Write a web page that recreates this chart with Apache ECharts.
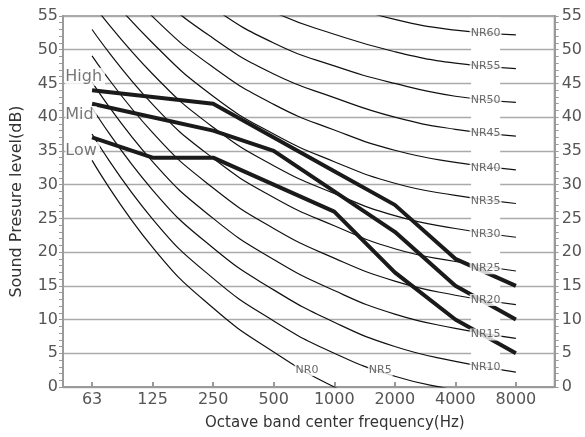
<!DOCTYPE html>
<html>
<head>
<meta charset="utf-8">
<script src="https://cdn.jsdelivr.net/npm/echarts@6/dist/echarts.min.js"></script>
<style>html,body{margin:0;padding:0;background:#fff;}#c{width:585px;height:437px;}</style>
</head>
<body>
<div id="c"></div>
<script>
// Octave band categories
const freqLabels = ['63', '125', '250', '500', '1000', '2000', '4000', '8000'];
// Y axis range / ticks
const yMin = 0, yMax = 55, yStep = 5;

// NR curves (dB at 63..8000 Hz)
const nr0  = [33.6, 20.7, 11.7, 5.2, 0.0, -3.7, -6.0, -7.8];
const nr5  = [37.5, 24.9, 16.1, 9.8, 5.0, 1.6, -0.5, -2.5];
const nr10 = [41.4, 29.2, 20.6, 14.4, 9.6, 6.0, 3.8, 2.2];
const nr15 = [45.2, 33.4, 25.0, 18.9, 14.3, 10.8, 8.7, 7.2];
const nr20 = [49.1, 37.7, 29.5, 23.5, 19.1, 15.7, 13.6, 12.2];
const nr25 = [53.0, 41.9, 33.9, 28.1, 23.9, 20.5, 18.6, 17.2];
const nr30 = [56.9, 46.4, 38.5, 32.8, 28.7, 25.4, 23.5, 22.2];
const nr35 = [61.0, 51.0, 43.1, 37.5, 33.4, 30.2, 28.4, 27.2];
const nr40 = [64.8, 54.9, 47.4, 41.9, 38.1, 35.1, 33.3, 32.2];
const nr45 = [68.5, 58.9, 51.7, 46.4, 42.9, 40.0, 38.2, 37.2];
const nr50 = [72.4, 63.2, 56.2, 51.0, 47.6, 45.0, 43.1, 42.2];
const nr55 = [76.2, 67.4, 60.6, 55.6, 52.3, 49.7, 48.0, 47.2];
const nr60 = [80.1, 71.6, 65.0, 60.6, 57.2, 54.5, 52.9, 52.2];
const nrNames = ['NR0','NR5','NR10','NR15','NR20','NR25','NR30','NR35','NR40','NR45','NR50','NR55','NR60'];
const nrCurves = [nr0, nr5, nr10, nr15, nr20, nr25, nr30, nr35, nr40, nr45, nr50, nr55, nr60];
// Curve value where each NR label sits
const nrLabelValues = [2.5, 2.5, 2.9, 7.8, 12.9, 17.6, 22.6, 27.5, 32.4, 37.7, 42.6, 47.5, 52.45];
// Fan speed levels
const highLevels = [44, 43, 42, 37, 32, 27, 19, 15];
const midLevels  = [42, 40, 38, 35, 29, 23, 15, 10];
const lowLevels  = [37, 34, 34, 30, 26, 17, 10, 5];
const levelNames = ['High', 'Mid', 'Low'];
const levelLabelValues = [46.0, 40.3, 35.0];

// ---- layout constants (not data) ----
const nrLabelX = nrNames.map((n, i) => i === 0 ? 3.55 : (i === 1 ? 4.76 : 6.5));
const levelLabelX = -0.45;
const FONT = 'DejaVu Sans';

const toXY = arr => arr.map((v, i) => [i, v]);

const series = [];
// white column behind the NR labels (breaks the grid lines)
series.push({
  type: 'line', data: [], z: 1, silent: true, symbol: 'none',
  markArea: {
    silent: true,
    itemStyle: { color: '#ffffff' },
    data: [[{ coord: [6.26, 0.2] }, { coord: [6.74, 54.8] }]]
  }
});
nrCurves.forEach((c, i) => {
  series.push({
    name: nrNames[i], type: 'line', data: toXY(c), smooth: 0.5, symbol: 'none', z: 2,
    lineStyle: { color: '#111', width: 1.2 }, silent: true, clip: true
  });
});
[[highLevels, 'High'], [midLevels, 'Mid'], [lowLevels, 'Low']].forEach(([arr, nm]) => {
  series.push({
    name: nm, type: 'line', data: toXY(arr), symbol: 'none', z: 3,
    lineStyle: { color: '#1a1a1a', width: 4 }, silent: true
  });
});
series.push({
  type: 'scatter', z: 5, symbolSize: 1, itemStyle: { color: 'rgba(0,0,0,0)' }, silent: true,
  data: nrNames.map((n, i) => ({ name: n, value: [nrLabelX[i], nrLabelValues[i]] })),
  label: {
    show: true, position: 'inside', formatter: p => p.name,
    fontFamily: FONT, fontSize: 11, color: '#444', backgroundColor: '#fff', padding: [1, 1, 0, 1]
  }
});
series.push({
  type: 'scatter', z: 5, symbolSize: 1, itemStyle: { color: 'rgba(0,0,0,0)' }, silent: true,
  data: levelNames.map((n, i) => ({ name: n, value: [levelLabelX, levelLabelValues[i]] })),
  label: {
    show: true, position: 'right', distance: 0, formatter: p => p.name,
    fontFamily: FONT, fontSize: 16, color: '#555', backgroundColor: '#fff', padding: [1, 3, 1, 0]
  }
});

const axisGray = '#9a9a9a';
const yAxisCommon = {
  type: 'value', min: yMin, max: yMax, interval: yStep,
  axisLine: { show: true, onZero: false, lineStyle: { color: axisGray, width: 2 } },
  axisTick: { show: true, inside: false, length: 4, lineStyle: { color: axisGray, width: 1 } },
  minorTick: { show: true, splitNumber: 5, length: 4, lineStyle: { color: axisGray, width: 1 } },
  axisLabel: { fontFamily: FONT, fontSize: 16, color: '#555' }
};

const option = {
  animation: false,
  backgroundColor: '#fff',
  grid: { left: 63, right: 29, top: 16, bottom: 50, show: true, borderColor: '#aaa', borderWidth: 2 },
  xAxis: {
    type: 'value', min: -0.48, max: 7.64,
    name: 'Octave band center frequency(Hz)', nameLocation: 'middle', nameGap: 29,
    nameTextStyle: { fontFamily: FONT, fontSize: 15, color: '#333', padding: [0, 0, 0, 52] },
    axisLine: { show: true, onZero: false, lineStyle: { color: axisGray, width: 2 } },
    axisTick: { show: true, inside: true, length: 5, customValues: [0, 1, 2, 3, 4, 5, 6, 7], lineStyle: { color: axisGray, width: 2 } },
    axisLabel: { fontFamily: FONT, fontSize: 16, color: '#555', margin: 5,
      customValues: [0, 1, 2, 3, 4, 5, 6, 7], formatter: v => freqLabels[Math.round(v)] },
    splitLine: { show: false }
  },
  yAxis: [
    Object.assign({}, yAxisCommon, {
      position: 'left',
      name: 'Sound Presure level(dB)', nameLocation: 'middle', nameGap: 38,
      nameTextStyle: { fontFamily: FONT, fontSize: 16, color: '#333' },
      axisLabel: Object.assign({}, yAxisCommon.axisLabel, { margin: 5 }),
      splitLine: { show: true, lineStyle: { color: '#aaa', width: 1.4 } }
    }),
    Object.assign({}, yAxisCommon, {
      position: 'right',
      axisLabel: Object.assign({}, yAxisCommon.axisLabel, { margin: 7 }),
      splitLine: { show: false }
    })
  ],
  series: series
};

const chart = echarts.init(document.getElementById('c'), null, { renderer: 'canvas' });
chart.setOption(option);
</script>
</body>
</html>
